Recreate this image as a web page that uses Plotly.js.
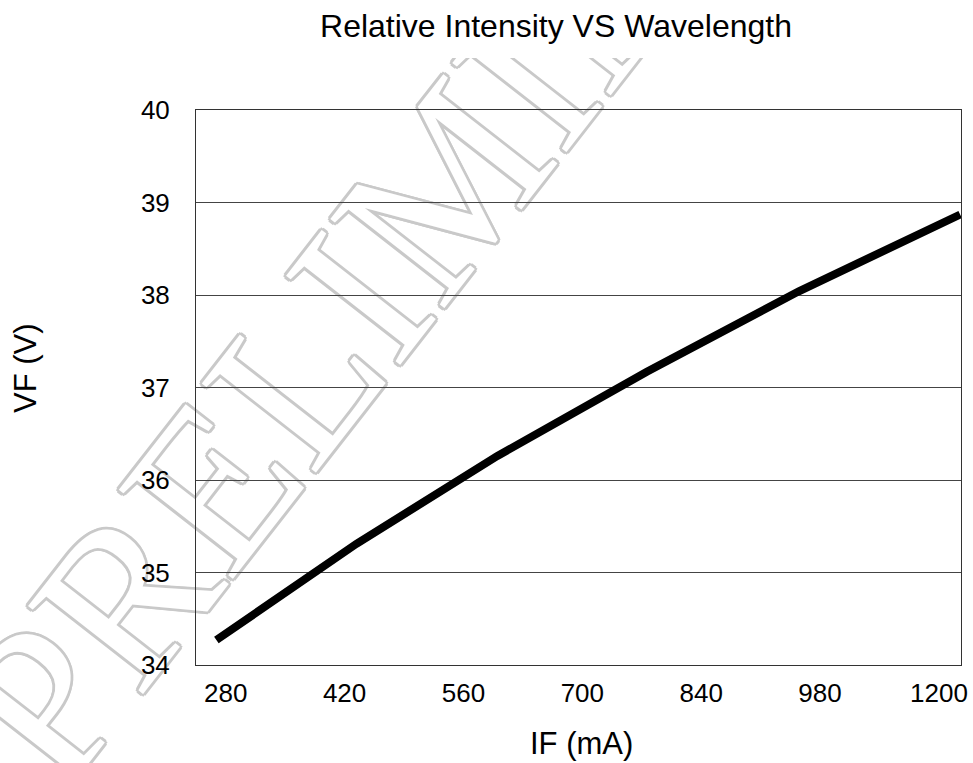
<!DOCTYPE html>
<html>
<head>
<meta charset="utf-8">
<script src="https://cdn.plot.ly/plotly-3.0.1.min.js"></script>
<style>html,body{margin:0;padding:0;background:#fff;}#chart{width:973px;height:763px;}</style>
</head>
<body>
<div id="chart"></div>
<script>
// Data
const ifValues = [269, 434, 600, 776, 955, 1145];        // IF (mA), read against the printed tick labels
const vfValues = [34.27, 35.31, 36.26, 37.17, 38.04, 38.87]; // VF (V)
const xTickVals = [280, 420, 560, 700, 840, 980, 1120];
const xTickText = ["280", "420", "560", "700", "840", "980", "1200"];
const yTickVals = [34, 35, 36, 37, 38, 39, 40];
const chartTitle = "Relative Intensity VS Wavelength";
const xTitle = "IF (mA)";
const yTitle = "VF (V)";
const watermark = "PRELIMINARY";

const FONT = "Liberation Sans, Arial, sans-serif";
const W = 973, H = 763, L = 196, R = 12, T = 110, B = 98;
const pw = W - L - R, ph = H - T - B;
const px = v => (v - L) / pw;          // pixel -> paper x
const py = v => (H - B - v) / ph;      // pixel -> paper y

const outline = "#c9c9c9";
const shadow = [
  "3px 0 0 " + outline, "-3px 0 0 " + outline, "0 3px 0 " + outline, "0 -3px 0 " + outline,
  "2px 2px 0 " + outline, "-2px -2px 0 " + outline, "2px -2px 0 " + outline, "-2px 2px 0 " + outline
].join(", ");

const trace = {
  x: ifValues, y: vfValues, type: "scatter", mode: "lines",
  line: {color: "#000", width: 8},
  hoverinfo: "skip", showlegend: false
};

const layout = {
  width: W, height: H,
  margin: {l: L, r: R, t: T, b: B},
  paper_bgcolor: "#fff", plot_bgcolor: "rgba(0,0,0,0)",
  font: {family: FONT, color: "#000"},
  title: {
    text: chartTitle, font: {family: FONT, size: 32, color: "#000"},
    xref: "container", yref: "container",
    x: 556 / W, xanchor: "center", y: 1 - 26 / H, yanchor: "middle"
  },
  xaxis: {
    range: [245, 1146], tickmode: "array", tickvals: xTickVals, ticktext: xTickText,
    showgrid: false, zeroline: false, showline: true, mirror: true,
    linecolor: "#333", linewidth: 1, ticks: "", ticklabelstandoff: 5,
    tickfont: {family: FONT, size: 26, color: "#000"}
  },
  yaxis: {
    range: [34, 40], tickmode: "array", tickvals: yTickVals,
    showgrid: true, gridcolor: "#444", gridwidth: 1, zeroline: false,
    showline: true, mirror: true, linecolor: "#333", linewidth: 1,
    ticks: "", ticklabelstandoff: 20,
    tickfont: {family: FONT, size: 26, color: "#000"}
  },
  shapes: [
    {
      type: "line", xref: "paper", yref: "paper", layer: "below",
      x0: px(384), y0: py(225), x1: px(508), y1: py(67),
      line: {color: "rgba(0,0,0,0)", width: 0},
      label: {
        text: watermark, textposition: "middle", textangle: -52,
        xanchor: "center", yanchor: "middle",
        font: {family: "Liberation Serif, Times New Roman, serif", size: 221, color: "#ffffff", shadow: shadow}
      }
    },
    {
      type: "rect", xref: "paper", yref: "paper", layer: "below",
      x0: px(0), x1: px(W), y0: py(58), y1: py(0),
      fillcolor: "#fff", line: {width: 0}
    }
  ],
  annotations: [
    {text: xTitle, xref: "paper", yref: "paper", x: px(581), y: py(744),
     xanchor: "center", yanchor: "middle", showarrow: false,
     font: {family: FONT, size: 31, color: "#000"}},
    {text: yTitle, xref: "paper", yref: "paper", x: px(25), y: py(368),
     xanchor: "center", yanchor: "middle", showarrow: false, textangle: -90,
     font: {family: FONT, size: 31, color: "#000"}}
  ]
};

Plotly.newPlot("chart", [trace], layout, {staticPlot: true, displayModeBar: false});
</script>
</body>
</html>
